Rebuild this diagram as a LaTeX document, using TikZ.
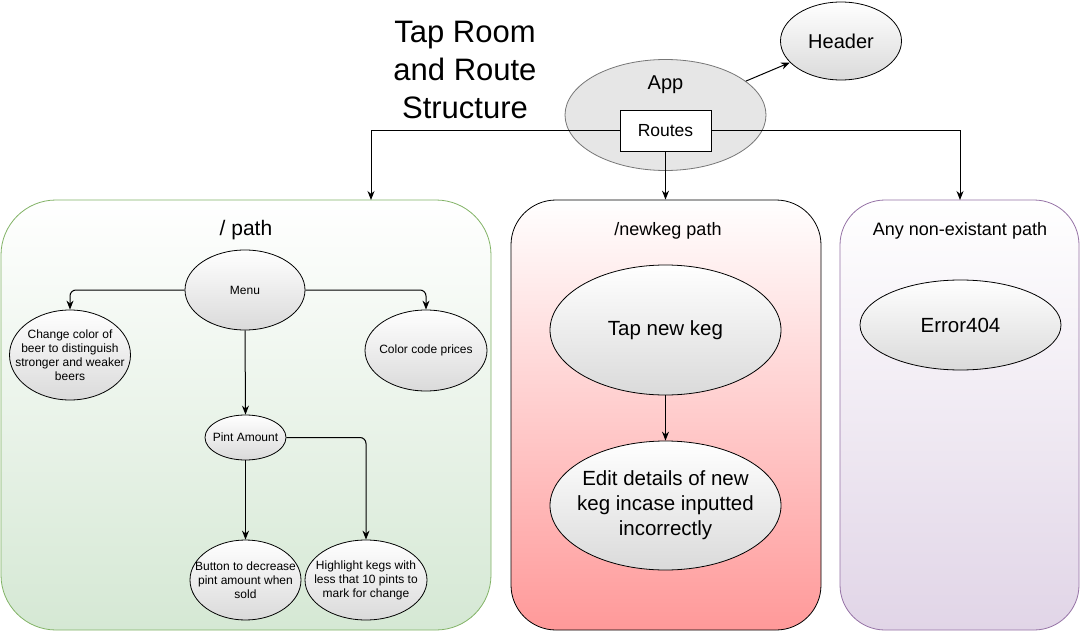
\documentclass[tikz,border=0pt]{standalone}
\usepackage{fontspec}
\setmainfont{Liberation Sans}
\usetikzlibrary{shapes.geometric,arrows.meta}
\definecolor{gstroke}{HTML}{82B366}
\definecolor{gfill}{HTML}{D5E8D4}
\definecolor{rfill}{HTML}{FF9999}
\definecolor{pstroke}{HTML}{9673A6}
\definecolor{pfill}{HTML}{E1D5E7}
\definecolor{ellbot}{HTML}{DADADA}
\definecolor{appfill}{HTML}{E6E6E6}
\definecolor{appstroke}{HTML}{777777}
\tikzset{
  ell/.style={ellipse, draw=black, line width=0.8pt, top color=white, bottom color=ellbot, inner sep=0pt},
  arr/.style={-{Stealth[length=9pt,width=7pt]}, line width=1pt, draw=black},
  rarr/.style={arr, rounded corners=6pt},
  pathbox/.style={rectangle, line width=0.8pt, inner sep=0pt},
  f12/.style={font=\fontsize{12}{14}\selectfont, align=center},
  f18/.style={font=\fontsize{18}{22}\selectfont, align=center},
  f20/.style={font=\fontsize{20.5}{25}\selectfont, align=center},
}
\begin{document}
\begin{tikzpicture}[x=1pt,y=-1pt]
\useasboundingbox (0,0) rectangle (1081,639);
\fill[white] (0,0) rectangle (1081,639);

% title
\node[font=\fontsize{31}{38}\selectfont, align=center] (title) at (465,70) {Tap Room\\and Route\\Structure};

% route boxes
\node[pathbox, draw=gstroke, top color=white, bottom color=gfill, rounded corners=55pt,
      minimum width=490pt, minimum height=430pt] (rootbox) at (246,415) {};
\node[pathbox, draw=black, top color=white, bottom color=rfill, rounded corners=45pt,
      minimum width=310pt, minimum height=430pt] (kegbox) at (666,415) {};
\node[pathbox, draw=pstroke, top color=white, bottom color=pfill, rounded corners=45pt,
      minimum width=239pt, minimum height=430pt] (errbox) at (959.5,415) {};

\node[font=\fontsize{21}{25}\selectfont] (roott) at (246,230) {/ path};
\node[f18] (kegt) at (668,231) {/newkeg path};
\node[f18] (errt) at (960,231) {Any non-existant path};

% App and header
\node[ellipse, draw=appstroke, fill=appfill, line width=0.8pt, inner sep=0pt,
      minimum width=201pt, minimum height=111pt] (app) at (665.5,115) {};
\node[font=\fontsize{20}{24}\selectfont] (appt) at (665.5,85) {App};
\node[rectangle, draw=black, fill=white, line width=0.8pt, minimum width=91pt, minimum height=41pt,
      inner sep=0pt, font=\fontsize{17.5}{21}\selectfont] (routes) at (665.5,130.5) {Routes};
\node[ell, minimum width=121pt, minimum height=78pt, font=\fontsize{20}{24}\selectfont] (header) at (841,41) {Header};

\coordinate (rootin) at (371,200);
\coordinate (errin) at (960,200);
\draw[arr] (app) -- (header);
\draw[arr] (routes.west) -| (rootin);
\draw[arr] (routes.east) -| (errin);
\draw[arr] (routes.south) -- (routes.south |- kegbox.north);

% / path contents
\node[ell, minimum width=120pt, minimum height=80pt, label={[f12]center:Menu}] (menu) at (245,290) {};
\node[ell, minimum width=121pt, minimum height=90pt,
      label={[f12]center:{Change color of\\beer to distinguish\\stronger and weaker\\beers}}] (change) at (70,355) {};
\node[ell, minimum width=122pt, minimum height=81pt, label={[f12]center:Color code prices}] (colorcode) at (426,350.5) {};
\node[ell, minimum width=81pt, minimum height=45pt, label={[f12]center:Pint Amount}] (pint) at (245.5,437.5) {};
\node[ell, minimum width=111pt, minimum height=80pt,
      label={[f12]center:{Button to decrease\\pint amount when\\sold}}] (button) at (245.5,580) {};
\node[ell, minimum width=122pt, minimum height=80pt,
      label={[f12]center:{Highlight kegs with\\less that 10 pints to\\mark for change}}] (highlight) at (366,580) {};

\draw[rarr] (menu.west) -| (change.north);
\draw[rarr] (menu.east) -| (colorcode.north);
\draw[arr] (menu.south) -- (pint.north);
\draw[arr] (pint.south) -- (button.north);
\draw[rarr] (pint.east) -| (highlight.north);

% /newkeg contents
\node[ell, minimum width=231pt, minimum height=130pt, label={[f20]center:Tap new keg}] (tap) at (665.5,330) {};
\node[ell, minimum width=231pt, minimum height=129pt,
      label={[f20]center:{Edit details of new\\keg incase inputted\\incorrectly}}] (edit) at (665.5,505.5) {};
\draw[arr] (tap.south) -- (edit.north);

% error contents
\node[ell, minimum width=201pt, minimum height=90pt, label={[f20]center:Error404}] (err404) at (960.5,325) {};
\end{tikzpicture}
\end{document}
